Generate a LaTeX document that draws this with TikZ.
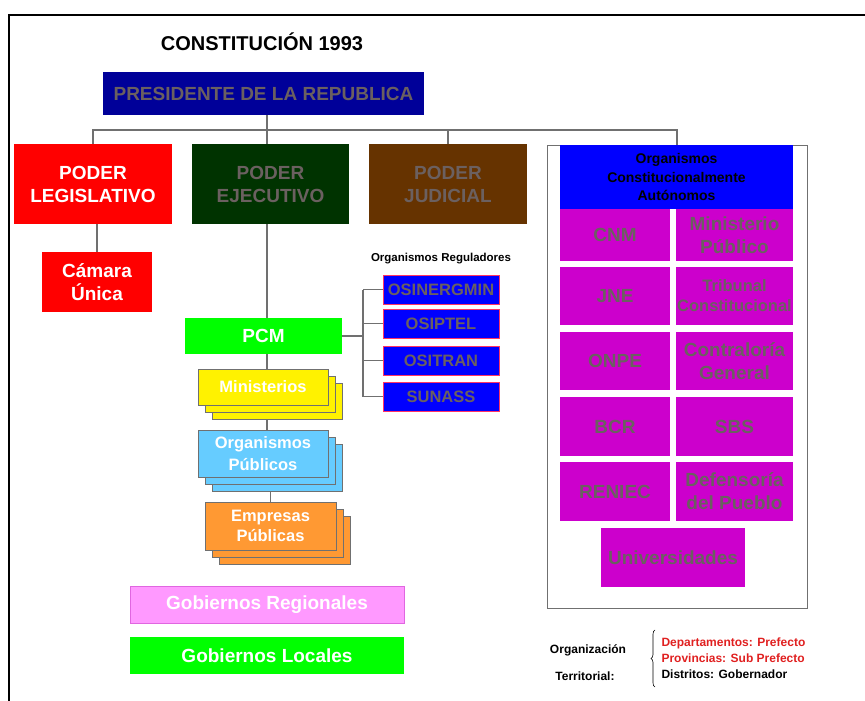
\documentclass[tikz,border=0pt]{standalone}
\usepackage{fontspec}
\setmainfont{Liberation Sans}
\usetikzlibrary{decorations.pathreplacing}
\pgfdeclarelayer{fondo}
\pgfsetlayers{fondo,main}
\definecolor{azulpres}{HTML}{000099}
\definecolor{azul}{HTML}{0000FF}
\definecolor{verdeosc}{HTML}{003300}
\definecolor{cafe}{HTML}{663300}
\definecolor{morado}{HTML}{CC00CC}
\definecolor{celeste}{HTML}{66CCFF}
\definecolor{naranja}{HTML}{FF9933}
\definecolor{rosa}{HTML}{FF99FF}
\definecolor{lima}{HTML}{00FF00}
\definecolor{grisT}{HTML}{6B6060}
\definecolor{gris}{HTML}{707070}
\definecolor{rojoT}{HTML}{E02020}
\definecolor{bordereg}{HTML}{FF3366}
\newcommand{\fs}[2]{\fontsize{#1}{#2}\selectfont\bfseries}

\begin{document}
\begin{tikzpicture}[x=1pt,y=-1pt,
   caja/.style={inner sep=0pt, align=center, font=\fs{19}{23}},
   chica/.style={inner sep=0pt, align=center, font=\fs{19}{23}, fill=morado, text=grisT},
   regul/.style={inner sep=0pt, font=\fs{16.5}{20}, fill=azul, draw=bordereg, line width=0.4pt, text=grisT,
                 minimum width=116pt, minimum height=29pt},
   con/.style={draw=gris, line width=1.1pt}]
   \useasboundingbox (0,0) rectangle (865,701);
   % marco
   \draw[line width=2.8pt] (8,15) -- (866,15);
   \draw[line width=2.8pt] (9,15) -- (9,702);
   \node[font=\fs{20}{24}] (titulo) at (262,42) {CONSTITUCIÓN 1993};
   % poderes
   \node[caja, fill=azulpres, text=grisT, minimum width=321pt, minimum height=43pt] (pres) at (263.5,93.5) {PRESIDENTE DE LA REPUBLICA};
   \node[caja, fill=red, text=white, minimum width=158pt, minimum height=80pt] (legis) at (93,184) {PODER\\LEGISLATIVO};
   \node[caja, fill=verdeosc, text=grisT, minimum width=157pt, minimum height=80pt] (ejec) at (270.5,184) {PODER\\EJECUTIVO};
   \node[caja, fill=cafe, text=grisT, minimum width=158pt, minimum height=80pt] (judi) at (448,184) {PODER\\JUDICIAL};
   \node[caja, fill=red, text=white, minimum width=110pt, minimum height=60pt] (camara) at (97,282) {Cámara\\Única};
   \coordinate (bus) at (267,130);
   \coordinate (ramal) at (363,336);
   % ejecutivo
   \node[caja, fill=lima, text=white, minimum width=157pt, minimum height=36pt] (pcm) at (263.5,336) {PCM};
   \foreach \d in {14,7}
      \node[caja, fill=yellow, draw=gris, minimum width=130pt, minimum height=36pt] at (263+\d,387+\d) {};
   \node[caja, fill=yellow, draw=gris, text=white, font=\fs{16.5}{21}, minimum width=130pt, minimum height=36pt] (mini) at (263,387) {Ministerios};
   \foreach \d in {14,7}
      \node[caja, fill=celeste, draw=gris, minimum width=130pt, minimum height=47pt] at (263+\d,453.5+\d) {};
   \node[caja, fill=celeste, draw=gris, text=white, font=\fs{16.5}{22}, minimum width=130pt, minimum height=47pt] (orgp) at (263,453.5) {Organismos\\Públicos};
   \foreach \d in {14,7}
      \node[caja, fill=naranja, draw=gris, minimum width=131pt, minimum height=48pt] at (270.5+\d,526+\d) {};
   \node[caja, fill=naranja, draw=gris, text=white, font=\fs{16.5}{20}, minimum width=131pt, minimum height=48pt] (empr) at (270.5,526) {Empresas\\Públicas};
   % reguladores
   \node[font=\fs{11.5}{14}] (regtit) at (441,259) {Organismos Reguladores};
   \node[regul] (osinerg) at (441,289.5) {OSINERGMIN};
   \node[regul] (osiptel) at (441,323.5) {OSIPTEL};
   \node[regul] (ositran) at (441,360.5) {OSITRAN};
   \node[regul] (sunass) at (441,396.5) {SUNASS};
   % organismos autonomos
   \node[draw=gris, line width=1pt, inner sep=0pt, minimum width=260pt, minimum height=463pt] (oca) at (677,376.5) {};
   \node[caja, fill=azul, text=black, font=\fs{14}{18.5}, minimum width=233pt, minimum height=64pt] (ocah) at (676.5,177) {Organismos\\Constitucionalmente\\Autónomos};
   \node[chica, minimum width=110pt, minimum height=52pt] (cnm) at (615,235) {CNM};
   \node[chica, minimum width=117pt, minimum height=52pt] (mp) at (734.5,235) {Ministerio\\Público};
   \node[chica, minimum width=110pt, minimum height=58pt] (jne) at (615,296) {JNE};
   \node[chica, font=\fs{16.5}{20}, minimum width=117pt, minimum height=58pt] (tc) at (734.5,296) {Tribunal\\Constitucional};
   \node[chica, minimum width=110pt, minimum height=58pt] (onpe) at (615,361) {ONPE};
   \node[chica, minimum width=117pt, minimum height=58pt] (cg) at (734.5,361) {Contraloría\\General};
   \node[chica, minimum width=110pt, minimum height=59pt] (bcr) at (615,426.5) {BCR};
   \node[chica, minimum width=117pt, minimum height=59pt] (sbs) at (734.5,426.5) {SBS};
   \node[chica, minimum width=110pt, minimum height=59pt] (reniec) at (615,491.5) {RENIEC};
   \node[chica, minimum width=117pt, minimum height=59pt] (dp) at (734.5,491.5) {Defensoría\\del Pueblo};
   \node[chica, minimum width=144pt, minimum height=59pt] (univ) at (673,557.5) {Universidades};
   % gobiernos
   \node[caja, fill=rosa, draw=morado!60, text=white, font=\fs{19}{22}, minimum width=274pt, minimum height=37pt] (gobreg) at (267,604.5) {Gobiernos Regionales};
   \node[caja, fill=lima, text=white, font=\fs{19}{22}, minimum width=274pt, minimum height=37pt] (gobloc) at (267,655.5) {Gobiernos Locales};
   % organizacion territorial
   \node[font=\fs{12}{15}] (orgt) at (588,650) {Organización};
   \node[font=\fs{12}{15}] (terr) at (585,676) {Territorial:};
   \draw[decorate, decoration={brace, amplitude=4pt}, line width=0.6pt] (655,687) -- (655,630);
   \node[anchor=west, font=\fs{12}{15}, text=rojoT] (depa) at (658,643) {Departamentos: Prefecto};
   \node[anchor=west, font=\fs{12}{15}, text=rojoT] (prov) at (658,658) {Provincias: Sub Prefecto};
   \node[anchor=west, font=\fs{12}{15}] (dist) at (658,674) {Distritos: Gobernador};
   % conectores
   \begin{pgfonlayer}{fondo}
   \draw[con] (legis.north) |- (bus) -| (oca.north);
   \draw[con] (bus |- pres.south) -- (bus |- ejec.north);
   \draw[con] (bus) -| (judi.north);
   \draw[con] (legis.south -| camara.north) -- (camara.north);
   \draw[con] (bus |- ejec.south) -- (bus |- pcm.north);
   \draw[con] (bus |- pcm.south) -- (bus |- mini.north);
   \draw[con] (bus |- mini.south) -- (bus |- orgp.north);
   \draw[con] (orgp.south -| empr.north) -- (empr.north);
   \draw[con] (pcm.east) -- (ramal);
   \draw[con] (ramal |- osinerg.west) -- (ramal |- sunass.west);
   \foreach \r in {osinerg,osiptel,ositran,sunass}
      \draw[con] (\r.west) -- (ramal |- \r.west);
   \end{pgfonlayer}
\end{tikzpicture}
\end{document}
